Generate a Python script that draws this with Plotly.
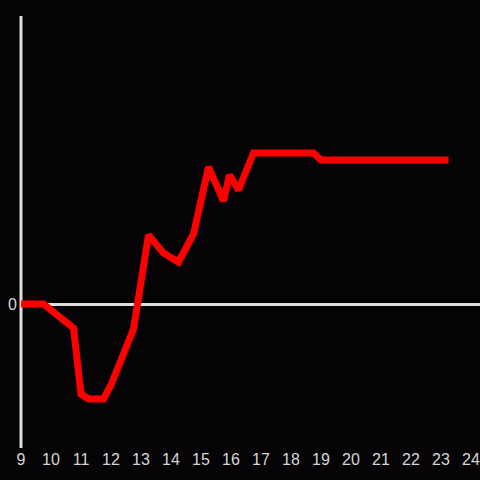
import plotly.graph_objects as go

hours = [9, 9.75, 10.75, 11, 11.25, 11.75, 12, 12.25, 12.75, 13.25, 13.75, 14.25,
         14.75, 15.25, 15.75, 15.95, 16.25, 16.75, 18.75, 19, 23.25]
values = [0, 0, -2.4, -9.0, -9.5, -9.5, -8.1, -6.1, -2.5, 6.9, 5.1, 4.2,
          7.0, 13.7, 10.3, 12.9, 11.4, 15.1, 15.1, 14.4, 14.4]
x_ticks = list(range(9, 25))
y_ticks = [0]

fig = go.Figure()
fig.add_trace(go.Scatter(x=hours, y=values, mode="lines",
                         line=dict(color="#ff0000", width=7)))

bg = "#050306"
axis_col = "#dedede"
fig.update_layout(
    width=480, height=480,
    paper_bgcolor=bg, plot_bgcolor=bg,
    margin=dict(l=21, r=0, t=16, b=32),
    showlegend=False,
    font=dict(family="Liberation Sans, Arial, sans-serif", size=16, color="#d6d6d6"),
    xaxis=dict(range=[9, 9 + 459 / 30], tickvals=x_ticks, showgrid=False,
               zeroline=False, showline=False, ticks="", ticklabelstandoff=0),
    yaxis=dict(range=[-14.4, 28.8], tickvals=y_ticks, showgrid=False,
               zeroline=True, zerolinecolor=axis_col, zerolinewidth=3,
               showline=False, ticks="", ticklabelstandoff=3),
    shapes=[dict(type="line", xref="paper", yref="paper", x0=0, x1=0, y0=0, y1=1,
                 line=dict(color=axis_col, width=3), layer="below")],
)

fig.write_html("out.html", config={"displayModeBar": False},
               post_script="document.body.style.margin='0';document.body.style.background='#050306';")
